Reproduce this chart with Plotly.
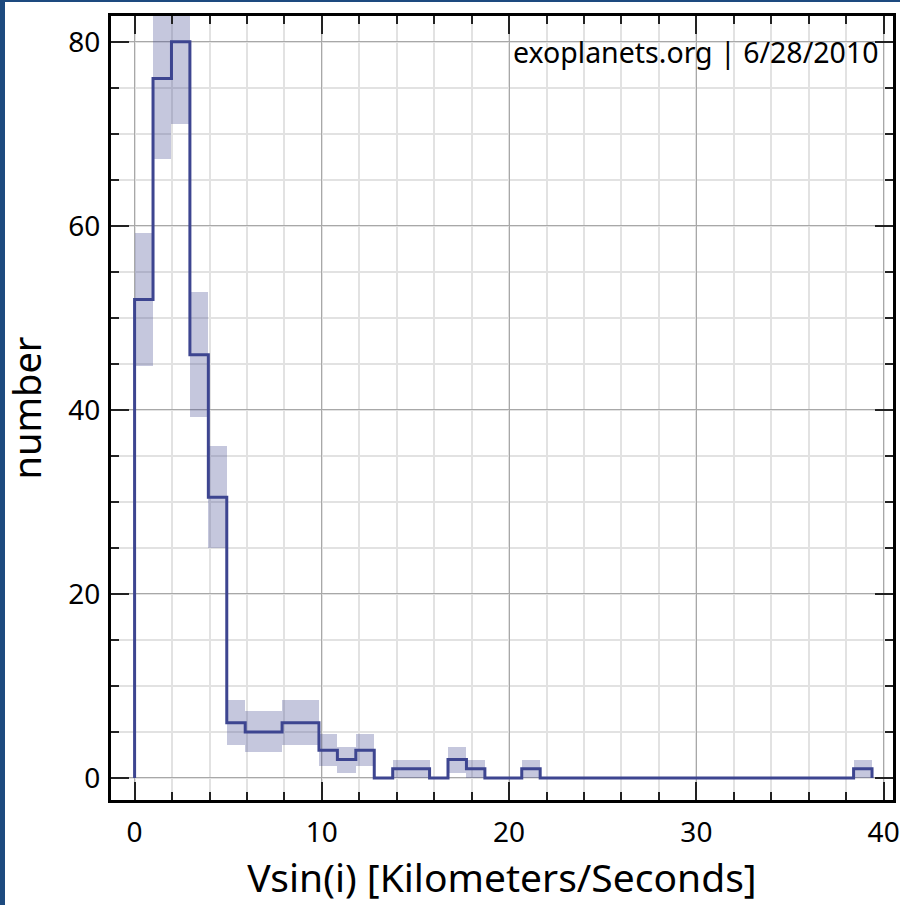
import math
import plotly.graph_objects as go

# Histogram of stellar Vsin(i), 40 equal-width bins from 0 to the maximum value
n_bins = 40
v_max = 39.38
counts = [52, 76, 80, 46, 30.5, 6, 5, 5, 6, 6,
          3, 2, 3, 0, 1, 1, 0, 2, 1, 0,
          0, 1, 0, 0, 0, 0, 0, 0, 0, 0,
          0, 0, 0, 0, 0, 0, 0, 0, 0, 1]

x_tick_vals = [0, 10, 20, 30, 40]
y_tick_vals = [0, 20, 40, 60, 80]
x_title = "Vsin(i) [Kilometers/Seconds]"
y_title = "number"
stamp = "exoplanets.org | 6/28/2010"

bin_w = v_max / n_bins
left_edges = [k * bin_w for k in range(n_bins)]

# sqrt(N) uncertainty boxes for non-empty bins
band_x = [e for e, c in zip(left_edges, counts) if c > 0]
band_base = [c - math.sqrt(c) for c in counts if c > 0]
band_h = [2 * math.sqrt(c) for c in counts if c > 0]

# step outline: rise at 0, step across all bins, drop back to 0 at the end
step_x = [0.0] + [k * bin_w for k in range(n_bins + 1)] + [n_bins * bin_w]
step_y = [0] + counts + [counts[-1], 0]

FONT = "Noto Sans"
LINE = "#3d4590"

fig = go.Figure()
fig.add_trace(go.Bar(
    x=band_x, y=band_h, base=band_base, width=bin_w, offset=0,
    marker=dict(color="rgba(62,70,142,0.30)", line=dict(width=0)),
    hoverinfo="skip", showlegend=False,
))
fig.add_trace(go.Scatter(
    x=step_x, y=step_y, mode="lines", line=dict(color=LINE, width=3, shape="hv"),
    showlegend=False,
))

W, H = 900, 905
ml, mr, mt, mb = 111, 7, 16, 105
pw, ph = W - ml - mr, H - mt - mb

axis_common = dict(
    showline=True, linecolor="black", linewidth=3, mirror="ticks",
    ticks="inside", ticklen=18, tickwidth=2, tickcolor="#222",
    showgrid=True, gridcolor="#a8a8a8", gridwidth=1.3,
    zeroline=False, automargin=False,
    tickfont=dict(family=FONT, size=28, color="black"),
)

fig.update_xaxes(
    range=[-1.26, 40.5], tickmode="array", tickvals=x_tick_vals,
    minor=dict(dtick=2, tick0=0, ticks="inside", ticklen=8, tickwidth=1.5, tickcolor="#222",
               showgrid=True, gridcolor="#e2e2e2", gridwidth=2),
    title=dict(text=x_title, font=dict(family=FONT, size=39, color="black"), standoff=0),
    ticklabelstandoff=5,
    **axis_common,
)
fig.update_yaxes(
    range=[-2.4, 82.8], tickmode="array", tickvals=y_tick_vals,
    minor=dict(dtick=5, tick0=0, ticks="inside", ticklen=8, tickwidth=1.5, tickcolor="#222",
               showgrid=True, gridcolor="#e2e2e2", gridwidth=2),
    title=dict(text=y_title, font=dict(family=FONT, size=38, color="black"), standoff=18),
    ticklabelstandoff=2,
    **axis_common,
)

# dark frame along the left and top of the page
frame = "#1d4a7f"
fig.add_shape(type="rect", xref="paper", yref="paper",
              x0=-ml / pw, x1=(-ml + 5) / pw, y0=-mb / ph, y1=(ph + mt) / ph,
              fillcolor=frame, line=dict(width=0), layer="above")
fig.add_shape(type="rect", xref="paper", yref="paper",
              x0=-ml / pw, x1=(pw + mr) / pw, y0=(ph + mt - 2) / ph, y1=(ph + mt) / ph,
              fillcolor=frame, line=dict(width=0), layer="above")

fig.add_annotation(
    text=stamp, xref="paper", yref="paper",
    x=(881 - ml) / pw, y=1 - (52 - mt) / ph, xanchor="right", yanchor="middle",
    showarrow=False, font=dict(family=FONT, size=28.5, color="black"),
)

fig.update_layout(
    width=W, height=H,
    margin=dict(l=ml, r=mr, t=mt, b=mb),
    paper_bgcolor="white", plot_bgcolor="white",
    bargap=0, barmode="overlay",
)

fig.write_html("out.html")
